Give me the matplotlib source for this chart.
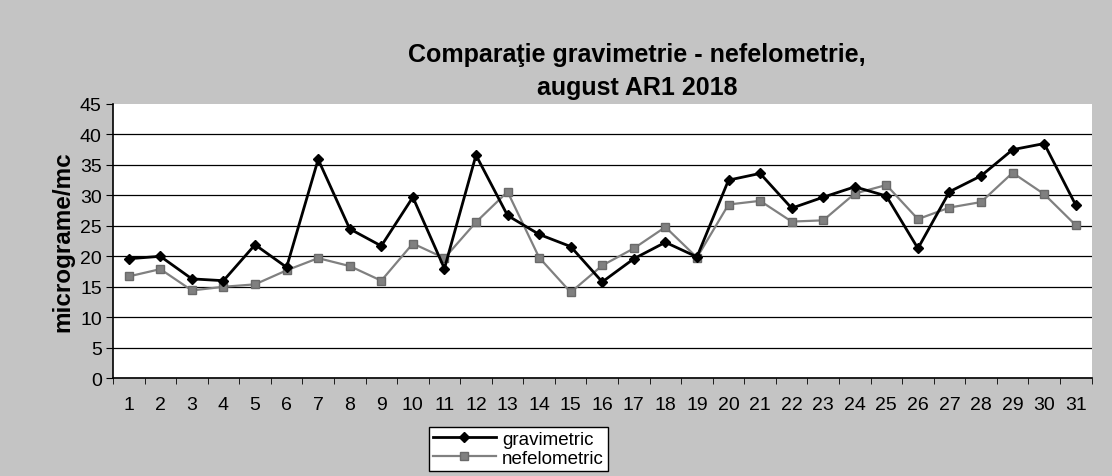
import numpy as np
import matplotlib
matplotlib.use("Agg")
import matplotlib.pyplot as plt

plt.rcParams['font.family'] = ['Liberation Sans', 'DejaVu Sans']

zile = list(range(1, 32))
gravimetric = [19.6, 20.0, 16.3, 16.0, 21.9, 18.2, 35.9, 24.5, 21.7, 29.7, 18.0,
               36.6, 26.7, 23.6, 21.6, 15.8, 19.6, 22.3, 19.9, 32.5, 33.6, 27.9,
               29.7, 31.4, 29.9, 21.3, 30.6, 33.2, 37.5, 38.5, 28.4]
nefelometric = [16.7, 17.9, 14.4, 15.0, 15.4, 17.7, 19.7, 18.4, 16.0, 22.1, 19.7,
                25.6, 30.6, 19.8, 14.1, 18.5, 21.3, 24.8, 19.8, 28.5, 29.1, 25.7,
                25.9, 30.3, 31.7, 26.1, 28.0, 28.9, 33.7, 30.2, 25.1]
y_ticks = list(range(0, 50, 5))

fig = plt.figure(figsize=(11.12, 4.77), dpi=100, facecolor='#c4c4c4')
ax = fig.add_axes([0.1016, 0.205, 0.880, 0.575])
ax.set_facecolor('white')

ax.plot(zile, gravimetric, color='black', lw=2, marker='D', ms=5,
        label='gravimetric', zorder=3)
ax.plot(zile, nefelometric, color='#808080', lw=1.6, marker='s', ms=6,
        mec='#6a6a6a', label='nefelometric', zorder=2)

ax.set_xlim(0.5, 31.5)
ax.set_ylim(0, 45)
ax.set_yticks(y_ticks)
ax.set_xticks(zile)
ax.set_xticks(np.arange(0.5, 32, 1), minor=True)  # tick-uri intre categorii, ca in Excel
ax.tick_params(axis='x', which='major', length=0, pad=13, labelsize=14)
ax.tick_params(axis='x', which='minor', length=4, direction='out')
ax.tick_params(axis='y', length=5, direction='out', labelsize=14, pad=3)

ax.grid(axis='y', color='black', lw=0.9)
ax.get_ygridlines()[-1].set_visible(False)
ax.set_axisbelow(True)
for s in ['top', 'right']:
    ax.spines[s].set_visible(False)
ax.spines['left'].set_linewidth(1.2)
ax.spines['bottom'].set_linewidth(1.2)

ax.set_ylabel('micrograme/mc', fontsize=17.5, fontweight='bold', labelpad=4)

fig.text(0.573, 0.885, 'Comparaţie gravimetrie - nefelometrie,', ha='center',
         va='center', fontsize=18, fontweight='bold')
fig.text(0.573, 0.815, 'august AR1 2018', ha='center', va='center',
         fontsize=18, fontweight='bold')

leg = fig.legend(loc='center', bbox_to_anchor=(0.466, 0.057), fontsize=13.5,
                 frameon=True, fancybox=False, edgecolor='black', framealpha=1,
                 handlelength=3.4, borderpad=0.2, labelspacing=0.1,
                 handletextpad=0.3)
leg.get_frame().set_linewidth(1)

plt.savefig('out.png', dpi=100, facecolor=fig.get_facecolor())
